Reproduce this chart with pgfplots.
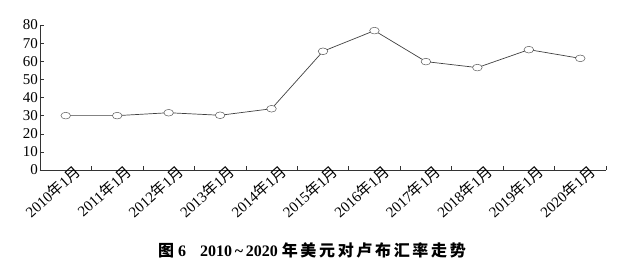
\documentclass[border=0pt]{standalone}
\usepackage{fontspec}
\setmainfont{Liberation Serif}
\newfontfamily\cjk{Noto Sans CJK SC}
\usepackage{pgfplots}
\pgfplotsset{compat=1.18}
\newcommand{\ym}[1]{#1{\cjk 年}1{\cjk 月}}
\begin{document}
\begin{tikzpicture}[x=1pt,y=1pt]
\useasboundingbox (-40,-98) rectangle (580,170);
\begin{axis}[
  at={(0,0)}, anchor=south west,
  scale only axis, width=566pt, height=145pt,
  xmin=-0.5, xmax=10.5, ymin=0, ymax=80,
  axis x line*=bottom, axis y line*=left,
  axis line style={black!80, line width=0.6pt},
  ytick={0,10,...,80},
  xtick={0,...,10},
  xticklabels={\ym{2010},\ym{2011},\ym{2012},\ym{2013},\ym{2014},\ym{2015},\ym{2016},\ym{2017},\ym{2018},\ym{2019},\ym{2020}},
  major x tick style={draw=none},
  minor xtick={0.5,1.5,2.5,3.5,4.5,5.5,6.5,7.5,8.5,9.5,10.5},
  tick align=inside,
  tick style={black!80, line width=0.5pt},
  major tick length=4pt, minor tick length=4pt,
  xticklabel style={rotate=42, anchor=north east, xshift=11pt, yshift=1pt, inner sep=1pt, font=\fontsize{15}{15}\selectfont},
  yticklabel style={font=\fontsize{15}{15}\selectfont, inner sep=2pt},
  /pgf/number format/assume math mode=true,
  clip=false,
]
\addplot[black!75, line width=0.7pt, mark=*, mark size=4.8pt,
  mark options={fill=white, draw=black!65, line width=0.5pt, yscale=0.7}]
  coordinates {
  (0,30.0) (1,30.0) (2,31.6) (3,30.2) (4,33.8) (5,65.5)
  (6,76.9) (7,59.8) (8,56.5) (9,66.4) (10,61.6)
  };
\end{axis}
\node[font=\bfseries\fontsize{16}{16}\selectfont] at (272,-80)
  {{\cjk 图}\hspace{4pt}6\hspace{14pt}2010\,\textasciitilde\,2020\hspace{4pt}{\cjk 年\,美\,元\,对\,卢\,布\,汇\,率\,走\,势}};
\end{tikzpicture}
\end{document}
